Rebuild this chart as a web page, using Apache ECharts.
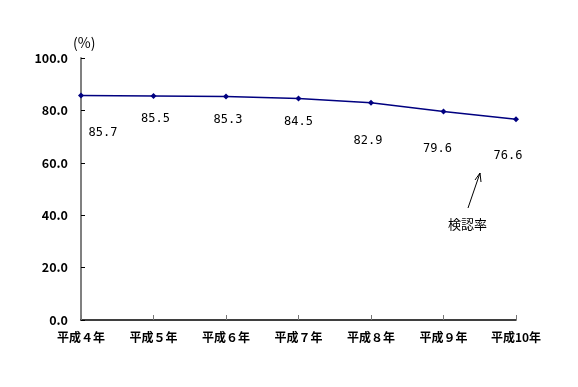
<!DOCTYPE html>
<html><head><meta charset="utf-8">
<script src="https://cdn.jsdelivr.net/npm/echarts@6/dist/echarts.min.js"></script>
<style>html,body{margin:0;padding:0;background:#fff}#c{width:578px;height:387px}</style>
</head><body><div id="c"></div>
<script>
const categories = ['平成４年','平成５年','平成６年','平成７年','平成８年','平成９年','平成10年'];
const rates = [85.7, 85.5, 85.3, 84.5, 82.9, 79.6, 76.6];
const yTicks = [0, 20, 40, 60, 80, 100];
const labelOffsets = [[22,37],[2,23],[2,23],[0,23],[-3,38],[-6,37],[-8,37]];

const chart = echarts.init(document.getElementById('c'));
const font = '"Noto Sans CJK JP", "DejaVu Sans Mono", sans-serif';
chart.setOption({
  animation: false,
  grid: {left: 81, right: 62, top: 58, bottom: 67},
  xAxis: {
    type: 'category', data: categories, boundaryGap: false,
    axisLine: {lineStyle: {color: '#000', width: 1.5}},
    axisTick: {show: true, inside: true, length: 5, alignWithLabel: true, lineStyle: {color: '#777'}},
    axisLabel: {color: '#000', fontFamily: font, fontSize: 12, margin: 11, fontWeight: 'bold'},
    splitLine: {show: false}
  },
  yAxis: {
    type: 'value', min: yTicks[0], max: yTicks[yTicks.length-1], interval: 20,
    name: '(%)', nameGap: 8, nameTextStyle: {color: '#000', fontFamily: font, fontSize: 14, align: 'left', padding: [0,0,0,-8]},
    axisLine: {show: true, lineStyle: {color: '#808080', width: 2}},
    axisTick: {show: true, inside: true, length: 4, lineStyle: {color: '#000'}},
    axisLabel: {color: '#000', fontFamily: font, fontSize: 12.5, margin: 13, fontWeight: 'bold', formatter: v => v.toFixed(1)},
    splitLine: {show: false}
  },
  series: [{
    type: 'line', data: rates.map((v,i) => ({value: v, label: {offset: labelOffsets[i]}})),
    symbol: 'diamond', symbolSize: 6,
    lineStyle: {color: '#000080', width: 1.5},
    itemStyle: {color: '#000080'},
    label: {show: true, position: 'inside', color: '#000', fontFamily: '"DejaVu Sans Mono", monospace', fontSize: 12, formatter: p => p.value.toFixed(1)}
  }],
  graphic: [
    {type: 'line', shape: {x1: 468, y1: 208, x2: 480, y2: 173}, style: {stroke: '#000', lineWidth: 1}},
    {type: 'polyline', shape: {points: [[475,180],[480,173],[481,182]]}, style: {stroke: '#000', lineWidth: 1, fill: null}},
    {type: 'text', left: 448, top: 218, style: {text: '検認率', fill: '#000', font: '13px "Noto Sans CJK JP"'}}
  ]
});
</script></body></html>
